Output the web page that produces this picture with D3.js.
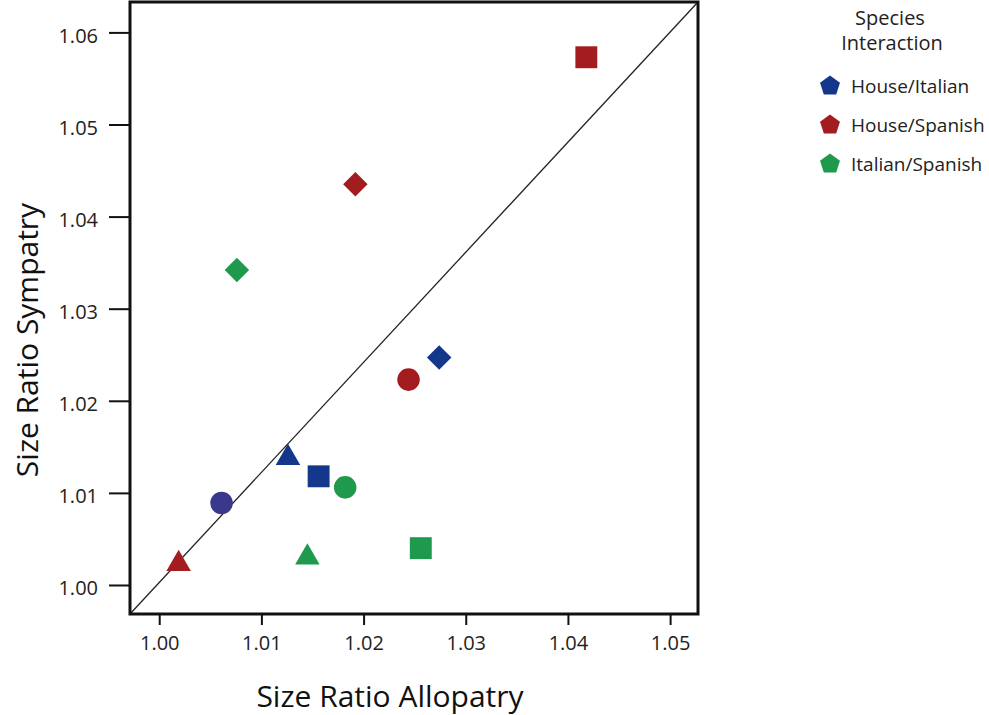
<!DOCTYPE html>
<html>
<head>
<meta charset="utf-8">
<script src="https://cdn.jsdelivr.net/npm/d3@7"></script>
<style>
  html, body { margin: 0; padding: 0; background: #fff; }
  svg { display: block; font-family: "Open Sans", "Noto Sans", sans-serif; }
</style>
</head>
<body>
<svg id="chart" width="989" height="715"></svg>
<script>
// Size ratios of each species pair, in allopatry (x) and sympatry (y)
const interactions = ["House/Italian", "House/Spanish", "Italian/Spanish"];
const interactionColors = ["#14378c", "#a31d20", "#1f9a4c"];

const pointInteraction = ["House/Italian", "House/Italian", "House/Italian", "House/Italian",
                          "House/Spanish", "House/Spanish", "House/Spanish", "House/Spanish",
                          "Italian/Spanish", "Italian/Spanish", "Italian/Spanish", "Italian/Spanish"];
const pointShape = ["circle", "triangle", "square", "diamond",
                    "circle", "triangle", "square", "diamond",
                    "circle", "triangle", "square", "diamond"];
const allopatry = [1.0061, 1.0126, 1.0156, 1.0274,
                   1.0244, 1.0019, 1.0418, 1.0192,
                   1.0182, 1.0145, 1.0256, 1.0076];
const sympatry  = [1.0089, 1.0138, 1.0118, 1.0247,
                   1.0223, 1.0023, 1.0573, 1.0435,
                   1.0106, 1.0030, 1.0040, 1.0342];
// the House/Italian circle is drawn in a slightly violet navy
const pointFill = ["#3a388c", null, null, null, null, null, null, null, null, null, null, null];

const xTicks = [1.00, 1.01, 1.02, 1.03, 1.04, 1.05];
const yTicks = [1.00, 1.01, 1.02, 1.03, 1.04, 1.05, 1.06];
const xDomain = [0.99714, 1.05273];
const yDomain = [0.99685, 1.06330];

const svg = d3.select("#chart");
const plot = { left: 130, right: 698, top: 2, bottom: 614 };

const x = d3.scaleLinear().domain(xDomain).range([plot.left, plot.right]);
const y = d3.scaleLinear().domain(yDomain).range([plot.bottom, plot.top]);
const color = d3.scaleOrdinal().domain(interactions).range(interactionColors);

// axes
const xAxis = svg.append("g")
  .attr("transform", `translate(0,${plot.bottom})`)
  .call(d3.axisBottom(x).tickValues(xTicks).tickFormat(d3.format(".2f")).tickSize(11).tickPadding(11));
const yAxis = svg.append("g")
  .attr("transform", `translate(${plot.left},0)`)
  .call(d3.axisLeft(y).tickValues(yTicks).tickFormat(d3.format(".2f")).tickSize(21).tickPadding(11));
[xAxis, yAxis].forEach(g => {
  g.attr("font-size", 20).attr("font-family", "'Open Sans', 'Noto Sans', sans-serif");
  g.select(".domain").remove();
  g.selectAll(".tick line").attr("stroke", "#111").attr("stroke-width", 2);
  g.selectAll(".tick text").attr("fill", "#222");
});
yAxis.selectAll(".tick text").attr("dy", "0.5em");

// diagonal reference line across the plotting area
svg.append("line")
  .attr("x1", x(xDomain[0])).attr("y1", y(yDomain[0]))
  .attr("x2", x(xDomain[1])).attr("y2", y(yDomain[1]))
  .attr("stroke", "#222").attr("stroke-width", 1.3);

// frame
svg.append("rect")
  .attr("x", plot.left).attr("y", plot.top)
  .attr("width", plot.right - plot.left).attr("height", plot.bottom - plot.top)
  .attr("fill", "none").attr("stroke", "#111").attr("stroke-width", 3);

// points
const symbolTypes = {
  circle: d3.symbolCircle,
  triangle: d3.symbolTriangle,
  square: d3.symbolSquare,
  diamond: d3.symbolDiamond
};
const symbolSizes = { circle: 400, triangle: 260, square: 480, diamond: 300 };
const diamondPath = s => {
  const r = Math.sqrt(s / 2);
  return `M0,${-r}L${r},0L0,${r}L${-r},0Z`;
};

svg.append("g").selectAll("path")
  .data(d3.range(allopatry.length))
  .join("path")
  .attr("transform", i => `translate(${x(allopatry[i])},${y(sympatry[i])})`)
  .attr("d", i => pointShape[i] === "diamond"
    ? diamondPath(symbolSizes.diamond)
    : d3.symbol(symbolTypes[pointShape[i]], symbolSizes[pointShape[i]])())
  .attr("fill", i => pointFill[i] || color(pointInteraction[i]));

// axis titles
svg.append("text")
  .attr("x", 390).attr("y", 707)
  .attr("text-anchor", "middle")
  .style("font-size", "30px").attr("fill", "#111")
  .text("Size Ratio Allopatry");
svg.append("text")
  .attr("transform", `translate(38,340) rotate(-90)`)
  .attr("text-anchor", "middle")
  .style("font-size", "30px").attr("fill", "#111")
  .text("Size Ratio Sympatry");

// legend
const legend = svg.append("g");
legend.append("text").attr("x", 890).attr("y", 25).attr("text-anchor", "middle")
  .style("font-size", "20px").attr("fill", "#222").text("Species");
legend.append("text").attr("x", 892).attr("y", 50).attr("text-anchor", "middle")
  .style("font-size", "20px").attr("fill", "#222").text("Interaction");

const pentagon = r => d3.range(5).map(k => {
  const a = -Math.PI / 2 + k * 2 * Math.PI / 5;
  return [r * Math.cos(a), r * Math.sin(a)];
});
const item = legend.selectAll("g.item")
  .data(interactions)
  .join("g")
  .attr("class", "item")
  .attr("transform", (d, i) => `translate(830,${86 + i * 39})`);
item.append("path")
  .attr("d", d3.line()(pentagon(10.5)) + "Z")
  .attr("fill", d => color(d));
item.append("text")
  .attr("x", 21).attr("y", 7)
  .style("font-size", "19px").attr("fill", "#222")
  .text(d => d);
</script>
</body>
</html>
